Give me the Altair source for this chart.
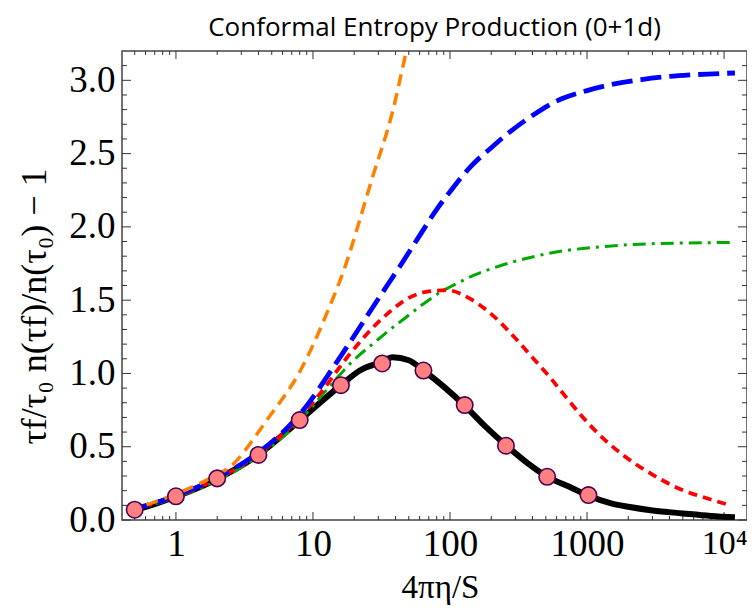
import altair as alt
import pandas as pd

# ---------------- data ----------------
black_x = [0.45, 0.5, 1, 2, 4, 8, 16, 22, 32, 38, 50, 64, 90, 128, 180, 256, 360, 512, 750, 1024, 1500, 2000, 3000, 5000, 8000, 12000]
black_y = [0.062, 0.07, 0.16, 0.28, 0.445, 0.68, 0.92, 1.02, 1.08, 1.11, 1.09, 1.02, 0.91, 0.78, 0.64, 0.51, 0.395, 0.295, 0.225, 0.165, 0.114, 0.09, 0.065, 0.045, 0.028, 0.018]

green_x = [0.45, 1, 2, 4, 8, 12, 19.8, 28, 38.7, 43, 61, 90, 100, 150, 233, 400, 638, 1200, 2190, 5000, 11100]
green_y = [0.062, 0.155, 0.27, 0.435, 0.675, 0.866, 1.09, 1.21, 1.318, 1.35, 1.46, 1.568, 1.59, 1.67, 1.735, 1.795, 1.833, 1.862, 1.880, 1.890, 1.893]

red_x = [0.45, 1, 2, 4, 8, 11.3, 18.7, 31, 54, 70, 95, 140, 186, 300, 407, 540, 700, 894, 1300, 1850, 3000, 4800, 8000, 11100]
red_y = [0.065, 0.16, 0.28, 0.45, 0.70, 0.864, 1.136, 1.363, 1.53, 1.56, 1.568, 1.51, 1.43, 1.24, 1.10, 0.97, 0.84, 0.72, 0.56, 0.44, 0.31, 0.21, 0.14, 0.10]

blue_x = [0.45, 1, 2, 4, 8, 16, 31, 43, 60, 80, 100, 141, 200, 275, 400, 604, 1000, 1480, 2500, 3840, 6000, 12000]
blue_y = [0.065, 0.165, 0.29, 0.46, 0.72, 1.12, 1.53, 1.73, 1.94, 2.12, 2.24, 2.41, 2.54, 2.65, 2.76, 2.86, 2.93, 2.97, 3.005, 3.025, 3.038, 3.05]

orange_x = [0.45, 1, 2, 2.49, 4, 4.6, 8.1, 14.1, 15.8, 27.7, 37.7, 48, 55]
orange_y = [0.065, 0.178, 0.31, 0.363, 0.6, 0.68, 1.02, 1.52, 1.636, 2.363, 2.77, 3.2, 3.45]

pts_x = [0.5, 1, 2, 4, 8, 16, 32, 64, 128, 256, 512, 1024]
pts_y = [0.07, 0.162, 0.284, 0.444, 0.682, 0.92, 1.068, 1.02, 0.784, 0.507, 0.295, 0.17]

x_major = [1, 10, 100, 1000, 10000]
x_mantissa = [2, 3, 4, 5, 6, 7, 8, 9]
x_decades = [0.1, 1, 10, 100, 1000, 10000]
y_major = [0.0, 0.5, 1.0, 1.5, 2.0, 2.5, 3.0]
y_minor = [0.1, 0.2, 0.3, 0.4, 0.6, 0.7, 0.8, 0.9, 1.1, 1.2, 1.3, 1.4, 1.6, 1.7, 1.8, 1.9,
           2.1, 2.2, 2.3, 2.4, 2.6, 2.7, 2.8, 2.9, 3.1]

XMIN, XMAX = 0.404, 14700
YMIN, YMAX = 0.0, 3.2
W, H = 625, 469

x_minor = [m * d for d in x_decades for m in x_mantissa if XMIN <= m * d <= XMAX]

# ---------------- scales / axes ----------------
xscale = alt.Scale(type="log", domain=[XMIN, XMAX], nice=False)
yscale = alt.Scale(domain=[YMIN, YMAX], nice=False, zero=False)

xaxis = alt.Axis(values=x_major, ticks=False, domain=False, grid=False,
                 labelExpr="datum.value >= 10000 ? '10⁴' : format(datum.value, 'd')",
                 labelFont="Liberation Serif",
                 labelFontSize={"condition": {"test": "datum.value >= 10000", "value": 34}, "value": 37},
                 labelColor="black", labelPadding=6, labelFlush=False,
                 title="4πη/S", titleFont="Liberation Serif", titleFontSize=33,
                 titleFontWeight="normal", titleColor="black",
                 titleX=318, titleY=67, titleAlign="center", titleBaseline="middle")
yaxis = alt.Axis(values=y_major, format=".1f", ticks=False, domain=False, grid=False,
                 labelFont="Liberation Serif", labelFontSize=37, labelColor="black",
                 labelPadding=7, labelFlush=False,
                 title="τf/τ₀ n(τf)/n(τ₀) − 1", titleFont="Liberation Serif",
                 titleFontSize=36, titleFontWeight="normal", titleColor="black",
                 titleAngle=270, titleX=-88, titleY=255, titleAlign="center",
                 titleBaseline="middle")

def X(f="x"):
    return alt.X(f"{f}:Q", scale=xscale, axis=xaxis)

def Y(f="y"):
    return alt.Y(f"{f}:Q", scale=yscale, axis=yaxis)

def curve(xs, ys, color, width, dash=None):
    df = pd.DataFrame({"x": xs, "y": ys})
    kw = dict(color=color, strokeWidth=width, clip=True, interpolate="monotone")
    if dash:
        kw["strokeDash"] = dash
    return alt.Chart(df).mark_line(**kw).encode(x=X(), y=Y())

black = curve(black_x, black_y, "black", 6)
green = curve(green_x, green_y, "#00A800", 3, [13, 6, 3, 6])
red = curve(red_x, red_y, "#FF0000", 3.8, [9, 6])
blue = curve(blue_x, blue_y, "#0000FF", 4.8, [21, 8])
orange = curve(orange_x, orange_y, "#FF8000", 3.5, [12, 7])

points = alt.Chart(pd.DataFrame({"x": pts_x, "y": pts_y})).mark_point(
    shape="circle", filled=True, fill="#FF8080", stroke="#4B0050",
    strokeWidth=1.6, size=270, opacity=1
).encode(x=X(), y=Y())

# ---------------- inward frame ticks ----------------
tick_color = "#333333"
def xticks(vals, length):
    df = pd.DataFrame({"x": vals})
    bottom = alt.Chart(df).mark_rule(color=tick_color, strokeWidth=1).encode(
        x=X(), y=alt.value(H), y2=alt.value(H - length))
    top = alt.Chart(df).mark_rule(color=tick_color, strokeWidth=1).encode(
        x=X(), y=alt.value(0), y2=alt.value(length))
    return [bottom, top]

def yticks(vals, length):
    df = pd.DataFrame({"y": vals})
    left = alt.Chart(df).mark_rule(color=tick_color, strokeWidth=1).encode(
        y=Y(), x=alt.value(0), x2=alt.value(length))
    right = alt.Chart(df).mark_rule(color=tick_color, strokeWidth=1).encode(
        y=Y(), x=alt.value(W), x2=alt.value(W - length))
    return [left, right]

layers = (xticks(x_major, 8) + xticks(x_minor, 4) + yticks(y_major, 9) + yticks(y_minor, 5)
          + [black, green, red, blue, orange, points])

chart = alt.layer(*layers).properties(
    width=W, height=H,
    autosize=alt.AutoSizeParams(type="none"),
    padding={"left": 114, "top": 43, "right": 0, "bottom": 86},
    title=alt.TitleParams("Conformal Entropy Production (0+1d)", font="Open Sans",
                          fontSize=26, fontWeight="normal", color="black",
                          anchor="middle", offset=10),
).configure_view(stroke="#444444", strokeWidth=1.5)

chart.save("out.html", embed_options={"renderer": "svg", "actions": False})
